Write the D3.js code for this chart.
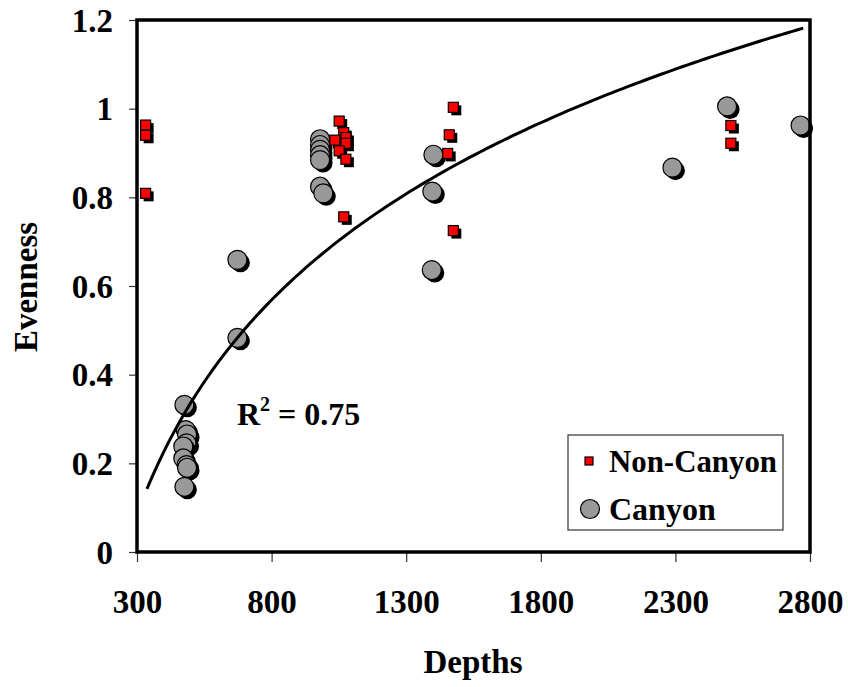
<!DOCTYPE html>
<html><head><meta charset="utf-8">
<script src="https://cdn.jsdelivr.net/npm/d3@7/dist/d3.min.js"></script>
<style>
html,body{margin:0;padding:0;background:#fff;}
text{font-family:"Liberation Serif","Times New Roman",serif;font-weight:bold;fill:#000;}
</style></head>
<body>
<svg id="chart" width="848" height="687"></svg>
<script>
// ---- data ----
const nonCanyonDepth = [332, 332, 332, 1051, 1068, 1035, 1076, 1076, 1051, 1076, 1068, 1475, 1460, 1454, 1475, 2506, 2506];
const nonCanyonEven  = [0.963, 0.940, 0.809, 0.972, 0.946, 0.929, 0.935, 0.922, 0.905, 0.886, 0.756, 1.003, 0.941, 0.899, 0.725, 0.962, 0.922];
const canyonDepth = [476, 481, 486, 484, 472, 472, 484, 486, 476, 673, 673, 980, 980, 980, 980, 980, 980, 992, 1401, 1397, 1395, 2289, 2492, 2765];
const canyonEven  = [0.332, 0.275, 0.265, 0.245, 0.238, 0.211, 0.196, 0.190, 0.147, 0.659, 0.483, 0.931, 0.918, 0.907, 0.895, 0.884, 0.824, 0.809, 0.896, 0.813, 0.636, 0.867, 1.005, 0.962];
// logarithmic trendline y = a*ln(x) + b
const trendCoef = [0.493, -2.727];
const trendRange = [337, 2775];
const xTicks = [300, 800, 1300, 1800, 2300, 2800];
const yTicks = [0, 0.2, 0.4, 0.6, 0.8, 1, 1.2];
const seriesNames = ["Non-Canyon", "Canyon"];
const r2Label = "0.75";

const svg = d3.select("#chart");
const L = 137, R = 810, T = 20, B = 552;
const x = d3.scaleLinear().domain([300, 2800]).range([L, R]);
const y = d3.scaleLinear().domain([0, 1.2]).range([B, T]);

// axes
const xAxis = svg.append("g").attr("transform", `translate(0,${B})`)
  .call(d3.axisBottom(x).tickValues(xTicks).tickSize(10).tickSizeOuter(0).tickFormat(d3.format("d")));
const yAxis = svg.append("g").attr("transform", `translate(${L},0)`)
  .call(d3.axisLeft(y).tickValues(yTicks).tickSize(8).tickSizeOuter(0).tickFormat(d => d === 0 ? "0" : d === 1 ? "1" : d3.format(".1f")(d)));
[xAxis, yAxis].forEach(g => {
  g.select(".domain").remove();
  g.selectAll(".tick line").attr("stroke", "#333").attr("stroke-width", 1.2);
  g.selectAll(".tick text").style("font-size", "33px").style("font-family", "Liberation Serif").style("font-weight", "bold").attr("fill", "#000");
});
xAxis.selectAll(".tick text").attr("dy", "0").attr("y", 61);
yAxis.selectAll(".tick text").attr("x", -24).attr("dy", "0.34em");

// trendline
const lnPts = d3.range(0, 121).map(i => {
  const d = trendRange[0] + (trendRange[1] - trendRange[0]) * i / 120;
  return [d, trendCoef[0] * Math.log(d) + trendCoef[1]];
});

const canyon = canyonDepth.map((d, i) => [d, canyonEven[i]]);
const nonCanyon = nonCanyonDepth.map((d, i) => [d, nonCanyonEven[i]]);

const gC = svg.append("g");
canyon.forEach(p => {
  gC.append("circle").attr("cx", x(p[0]) + 3).attr("cy", y(p[1]) + 3).attr("r", 9.5).attr("fill", "#000");
  gC.append("circle").attr("cx", x(p[0])).attr("cy", y(p[1])).attr("r", 9.5).attr("fill", "#999999").attr("stroke", "#000").attr("stroke-width", 1.2);
});
const gN = svg.append("g");
nonCanyon.forEach(p => {
  gN.append("rect").attr("x", x(p[0]) - 5 + 3).attr("y", y(p[1]) - 5 + 3).attr("width", 10).attr("height", 10).attr("fill", "#000");
  gN.append("rect").attr("x", x(p[0]) - 5).attr("y", y(p[1]) - 5).attr("width", 10).attr("height", 10).attr("fill", "#ff0000").attr("stroke", "#000").attr("stroke-width", 1.2);
});

svg.append("path").datum(lnPts)
  .attr("d", d3.line().x(d => x(d[0])).y(d => y(d[1])))
  .attr("fill", "none").attr("stroke", "#000").attr("stroke-width", 3);

// plot border
svg.append("rect").attr("x", L).attr("y", T).attr("width", R - L).attr("height", B - T)
  .attr("fill", "none").attr("stroke", "#000").attr("stroke-width", 3.5);

// R^2 label
const rt = svg.append("text").attr("x", 237).attr("y", 425).style("font-size", "32px");
rt.append("tspan").text("R");
rt.append("tspan").text("2").style("font-size", "20px").attr("dy", -14);
rt.append("tspan").text(" = " + r2Label).attr("dy", 14);

// axis titles
svg.append("text").attr("x", 473).attr("y", 673).attr("text-anchor", "middle").style("font-size", "33px").text("Depths");
svg.append("text").attr("transform", "translate(37,287) rotate(-90)").attr("text-anchor", "middle").style("font-size", "33px").text("Evenness");

// legend
const lg = svg.append("g");
lg.append("rect").attr("x", 568).attr("y", 435).attr("width", 215).attr("height", 95).attr("fill", "#fff").attr("stroke", "#333").attr("stroke-width", 1.2);
lg.append("rect").attr("x", 585).attr("y", 457).attr("width", 8).attr("height", 8).attr("fill", "#ff0000").attr("stroke", "#000").attr("stroke-width", 1.2);
lg.append("text").attr("x", 609).attr("y", 472).style("font-size", "32px").attr("textLength", 168).attr("lengthAdjust", "spacingAndGlyphs").text(seriesNames[0]);
lg.append("circle").attr("cx", 590).attr("cy", 509).attr("r", 9.5).attr("fill", "#999999").attr("stroke", "#000").attr("stroke-width", 1.2);
lg.append("text").attr("x", 609).attr("y", 520).style("font-size", "32px").text(seriesNames[1]);
</script>
</body></html>
